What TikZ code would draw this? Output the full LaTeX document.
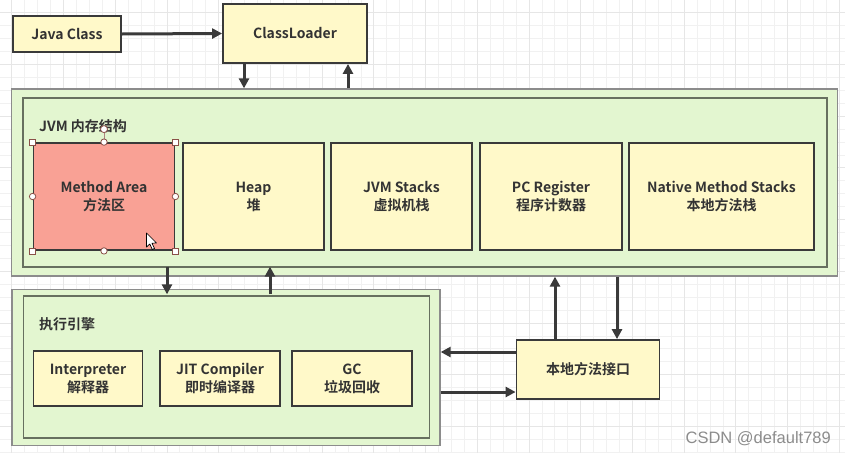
\documentclass[tikz,border=0pt]{standalone}
\usepackage{fontspec}
\setmainfont{Noto Sans CJK SC}[BoldFont={Noto Sans CJK SC Bold}]
\newfontfamily\wmfont{Liberation Sans}
\usetikzlibrary{arrows.meta}
\definecolor{ybox}{HTML}{FFF9C9}
\definecolor{gbox}{HTML}{E3F6D0}
\definecolor{rbox}{HTML}{F9A195}
\definecolor{txt}{HTML}{333333}
\definecolor{edge}{HTML}{3A3A3A}
\definecolor{gridminor}{HTML}{F1F1F1}
\definecolor{gridmajor}{HTML}{E6E6E6}
\definecolor{handle}{HTML}{8A5048}
\tikzset{
  boxy/.style={draw=edge, line width=1.8pt, fill=ybox, inner sep=0pt, align=center,
     font=\bfseries\fontsize{14}{18}\selectfont, text=txt},
  greenout/.style={draw=black!45, line width=1.3pt, fill=gbox, inner sep=0pt},
  greenin/.style={draw=black!35!gbox!70!black, line width=1.3pt, inner sep=0pt},
  lbl/.style={anchor=west, inner sep=0pt, font=\bfseries\fontsize{14}{16}\selectfont, text=txt},
  arr/.style={draw=edge, line width=3pt, -{Triangle[length=10pt,width=10pt]}},
  hsq/.style={draw=handle, fill=white, line width=0.8pt},
}
\begin{document}
\begin{tikzpicture}[x=1pt,y=-1pt]
\useasboundingbox (0,0) rectangle (845,453);
\fill[white] (0,0) rectangle (845,453);
% grid
\foreach \i in {0,...,66} {
  \pgfmathsetmacro\xx{11.8+12.93*\i}
  \draw[gridminor, line width=0.8pt] (\xx,0) -- (\xx,453);
}
\foreach \i in {0,...,35} {
  \pgfmathsetmacro\yy{12.7+12.93*\i}
  \draw[gridminor, line width=0.8pt] (0,\yy) -- (845,\yy);
}
\foreach \i in {0,...,16} {
  \pgfmathsetmacro\xx{11.8+51.72*\i}
  \draw[gridmajor, line width=0.8pt] (\xx,0) -- (\xx,453);
}
\foreach \i in {0,...,8} {
  \pgfmathsetmacro\yy{12.7+51.72*\i}
  \draw[gridmajor, line width=0.8pt] (0,\yy) -- (845,\yy);
}

% top
\node[boxy, minimum width=108pt, minimum height=36pt] (java) at (67,34) {Java Class};
\node[boxy, minimum width=144pt, minimum height=59pt] (cl) at (295,33.5) {ClassLoader};

% JVM memory
\node[greenout, minimum width=826pt, minimum height=187pt] (jvmout) at (424.5,182.5) {};
\node[greenin, minimum width=804pt, minimum height=169pt] (jvmin) at (425,182.5) {};
\node[lbl] (jvmlbl) at (39,126) {JVM 内存结构};
\node[boxy, fill=rbox, minimum width=141pt, minimum height=107pt] (ma) at (104,196.5) {Method Area\\方法区};
\node[boxy, minimum width=141pt, minimum height=107pt] (heap) at (253.5,196.5) {Heap\\堆};
\node[boxy, minimum width=141pt, minimum height=107pt] (stk) at (401.5,196.5) {JVM Stacks\\虚拟机栈};
\node[boxy, minimum width=142pt, minimum height=107pt] (pc) at (551,196.5) {PC Register\\程序计数器};
\node[boxy, minimum width=185pt, minimum height=107pt] (nms) at (721.5,196.5) {Native Method Stacks\\本地方法栈};

% selection handles on Method Area
\draw[handle!70, line width=0.8pt] (ma.north) -- ++(0,-13) coordinate (rot);
\draw[hsq] (rot) circle (3.5pt);
\foreach \a in {north west,north east,south west,south east}
  \draw[hsq] ([shift={(-3,-3)}]ma.\a) rectangle ([shift={(3,3)}]ma.\a);
\foreach \a in {north,south,east,west}
  \draw[hsq] (ma.\a) circle (3.2pt);
% cursor
\draw[black, fill=white, line width=0.7pt, line join=round]
  (146.5,233) -- (146.5,247) -- (149.8,244) -- (152.3,249.5) -- (154.5,248.5) -- (152,243.2) -- (156.5,243) -- cycle;

% execution engine
\node[greenout, minimum width=428pt, minimum height=156pt] (exout) at (226,367.5) {};
\node[greenin, minimum width=406pt, minimum height=142pt] (exin) at (226.5,367) {};
\node[lbl] (exlbl) at (39,324) {执行引擎};
\node[boxy, minimum width=109pt, minimum height=55pt] (interp) at (88,378.5) {Interpreter\\解释器};
\node[boxy, minimum width=120pt, minimum height=55pt] (jit) at (220,378.5) {JIT Compiler\\即时编译器};
\node[boxy, minimum width=120pt, minimum height=55pt] (gc) at (352,378.5) {GC\\垃圾回收};

% native interface
\node[boxy, minimum width=143pt, minimum height=59pt] (nat) at (588,369.5) {本地方法接口};

% arrows
\coordinate (xa) at (244,0);
\coordinate (xb) at (348,0);
\coordinate (xc) at (167,0);
\coordinate (xd) at (270,0);
\coordinate (xe) at (555,0);
\coordinate (xf) at (617,0);
\coordinate (ya) at (0,352);
\coordinate (yb) at (0,392);
\draw[arr] (java.east) -- (cl.west);
\draw[arr] (cl.south -| xa) -- (jvmout.north -| xa);
\draw[arr] (jvmout.north -| xb) -- (cl.south -| xb);
\draw[arr] ([yshift=1]jvmin.south -| xc) -- ([yshift=1]exin.north -| xc);
\draw[arr] ([yshift=1]exin.north -| xd) -- ([yshift=1]jvmin.south -| xd);
\draw[arr] (nat.north -| xe) -- (jvmout.south -| xe);
\draw[arr] (jvmout.south -| xf) -- (nat.north -| xf);
\draw[arr] (nat.west |- ya) -- (exout.east |- ya);
\draw[arr] (exout.east |- yb) -- (nat.west |- yb);

% watermark
\node[anchor=east, inner sep=0pt, font=\wmfont\fontsize{16.5}{18}\selectfont, text=black!45] (wm) at (831,438.5) {CSDN @default789};
\end{tikzpicture}
\end{document}
